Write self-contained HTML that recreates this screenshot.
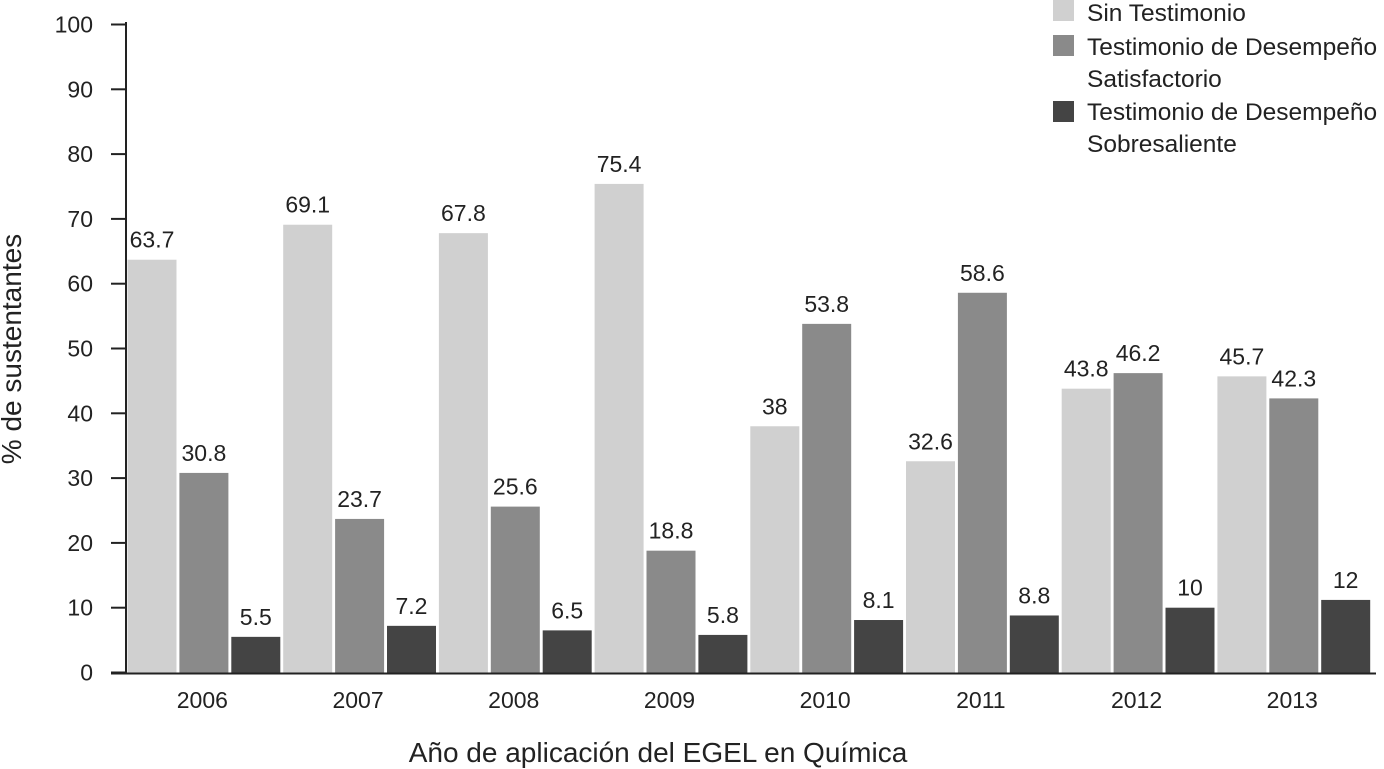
<!DOCTYPE html>
<html><head><meta charset="utf-8"><style>
body{margin:0;background:#fff;}
svg{display:block;font-family:"Liberation Sans",sans-serif;}
</style></head><body>
<svg id="chart" width="1384" height="769"></svg>
<script>
const years=["2006","2007","2008","2009","2010","2011","2012","2013"];
const sinTestimonio=[63.7,69.1,67.8,75.4,38,32.6,43.8,45.7];
const satisfactorio=[30.8,23.7,25.6,18.8,53.8,58.6,46.2,42.3];
const sobresaliente=[5.5,7.2,6.5,5.8,8.1,8.8,10,11.2];
const sinLabels=["63.7","69.1","67.8","75.4","38","32.6","43.8","45.7"];
const satLabels=["30.8","23.7","25.6","18.8","53.8","58.6","46.2","42.3"];
const sobLabels=["5.5","7.2","6.5","5.8","8.1","8.8","10","12"];
const yTicks=[0,10,20,30,40,50,60,70,80,90,100];

const svg=document.getElementById('chart');
const NS='http://www.w3.org/2000/svg';
const X0=127.5,GW=155.7,BW=49,Y0=672.5,YS=6.48;
const y=v=>Y0-v*YS;
const gx=i=>X0+i*GW;
function mk(t,a,txt){const e=document.createElementNS(NS,t);for(const k in a)e.setAttribute(k,a[k]);if(txt!==undefined)e.textContent=txt;svg.appendChild(e);return e;}

const series=[[sinTestimonio,sinLabels,'#d0d0d0','sin-testimonio'],[satisfactorio,satLabels,'#8a8a8a','satisfactorio'],[sobresaliente,sobLabels,'#444444','sobresaliente']];
series.forEach((s,si)=>{
  s[0].forEach((v,i)=>{
    const x=gx(i)+si*GW/3;
    const r=mk('rect',{x:x,y:y(v),width:BW,height:Y0-y(v),fill:s[2]});
    
    
    const t=mk('text',{x:x+BW/2,y:y(v)-12,'text-anchor':'middle','font-size':23,fill:'#222'},s[1][i]);
    
    
  });
});
let a=mk('line',{x1:126,y1:22,x2:126,y2:Y0+1,stroke:'#222','stroke-width':2});

a=mk('line',{x1:111,y1:Y0+1,x2:1376,y2:Y0+1,stroke:'#222','stroke-width':2});

yTicks.forEach(v=>{
  const l=mk('line',{x1:111,y1:y(v),x2:126,y2:y(v),stroke:'#222','stroke-width':2});
  
  const t=mk('text',{x:93,y:y(v)+8,'text-anchor':'end','font-size':23,fill:'#222'},String(v));
  
});
years.forEach((yr,i)=>{
  const t=mk('text',{x:gx(i)+GW/2-3,y:708,'text-anchor':'middle','font-size':23,fill:'#222'},yr);
  
});
let t=mk('text',{x:658,y:762,'text-anchor':'middle','font-size':28,fill:'#222'},'Año de aplicación del EGEL en Química');

t=mk('text',{x:0,y:0,'text-anchor':'middle','font-size':28,fill:'#222',transform:'translate(21,349) rotate(-90)'},'% de sustentantes');

const leg=[['#d0d0d0',0,['Sin Testimonio'],[21]],['#8a8a8a',35,['Testimonio de Desempeño','Satisfactorio'],[55,87]],['#444444',101,['Testimonio de Desempeño','Sobresaliente'],[120,152]]];
leg.forEach((l,i)=>{
  const r=mk('rect',{x:1053,y:l[1],width:21,height:21,fill:l[0]});
  
  l[2].forEach((s,j)=>{
    const tt=mk('text',{x:1087,y:l[3][j],'font-size':24.5,fill:'#222'},s);
    
  });
});
</script>
</body></html>
